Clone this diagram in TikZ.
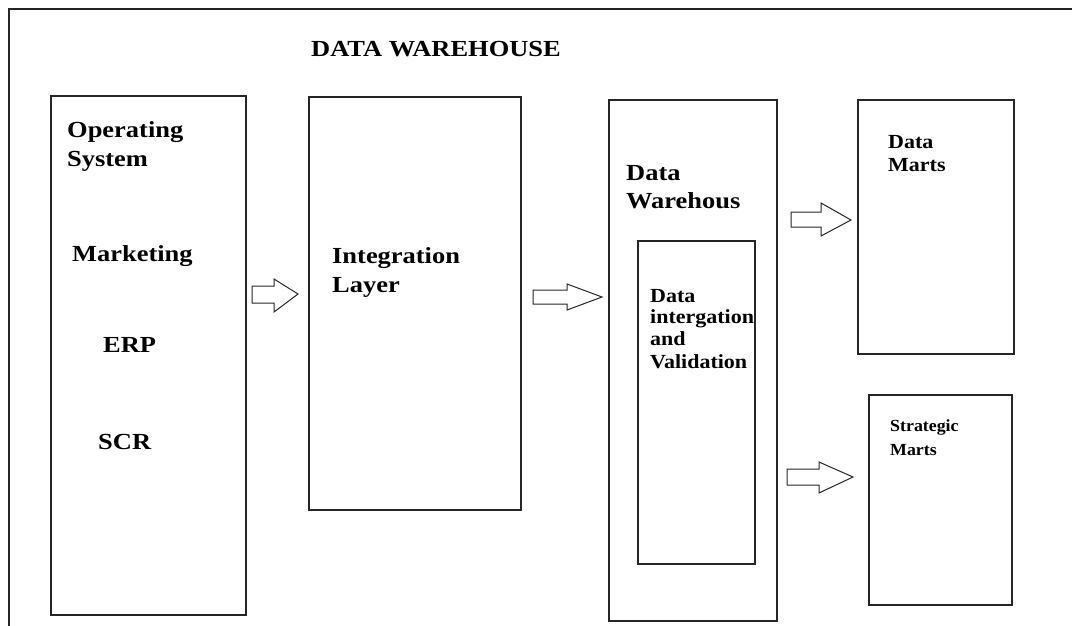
\documentclass[tikz,border=0pt]{standalone}
\usepackage{fontspec}
\newfontfamily\bigf{Liberation Serif}[FakeStretch=1.15]
\newfontfamily\smallf{Liberation Serif}[FakeStretch=1.1]
\newfontfamily\tinyf{Liberation Serif}[FakeStretch=1.05]
\begin{document}
\begin{tikzpicture}[x=1pt,y=-1pt,
  box/.style={draw=black!85, line width=1.4pt, fill=white},
  lblA/.style={font=\bigf\bfseries\fontsize{23}{27}\selectfont, anchor=base west, inner sep=0pt},
  lblB/.style={font=\smallf\bfseries\fontsize{20}{23}\selectfont, anchor=base west, inner sep=0pt},
  lblC/.style={font=\tinyf\bfseries\fontsize{17}{20}\selectfont, anchor=base west, inner sep=0pt},
  blockarrow/.style={draw=black!85, line width=1pt, fill=white, line join=miter}]
\useasboundingbox (0,0) rectangle (1072,626);
% outer frame (left and top only visible)
\draw[line width=2pt, black!85] (9,626) -- (9,9) -- (1072,9);
% boxes
\draw[box] (51,96) rectangle (246,615) node[pos=0.5] (os) {};
\draw[box] (309,97) rectangle (521,510) node[pos=0.5] (il) {};
\draw[box] (609,100) rectangle (777,621) node[pos=0.5] (dw) {};
\draw[box] (638,241) rectangle (755,564) node[pos=0.5] (div) {};
\draw[box] (858,100) rectangle (1014,354) node[pos=0.5] (dm) {};
\draw[box] (869,395) rectangle (1012,605) node[pos=0.5] (sm) {};
% block arrows
\draw[blockarrow] (252,286) -- (274,286) -- (274,279) -- (298,294) -- (274,312) -- (274,303) -- (252,303) -- cycle;
\draw[blockarrow] (533,290) -- (567,290) -- (567,284) -- (602,297) -- (567,310) -- (567,304) -- (533,304) -- cycle;
\draw[blockarrow] (791,212) -- (821,212) -- (821,203) -- (851,220) -- (821,236) -- (821,227) -- (791,227) -- cycle;
\draw[blockarrow] (787,469) -- (819,469) -- (819,462) -- (853,477) -- (819,493) -- (819,485) -- (787,485) -- cycle;
% texts
\node[lblA] (title) at (311,57) {DATA WAREHOUSE};
\node[lblA] (os1) at (67,138) {Operating};
\node[lblA] (os2) at (67,166) {System};
\node[lblA] (mk) at (72,261) {Marketing};
\node[lblA] (erp) at (103,352) {ERP};
\node[lblA] (scr) at (98,449) {SCR};
\node[lblA] (il1) at (332,263) {Integration};
\node[lblA] (il2) at (332,292) {Layer};
\node[lblA] (dw1) at (626,180) {Data};
\node[lblA] (dw2) at (626,208) {Warehous};
\node[lblB] (di1) at (650,302) {Data};
\node[lblB] (di2) at (650,323) {intergation};
\node[lblB] (di3) at (650,345) {and};
\node[lblB] (di4) at (650,368) {Validation};
\node[lblB] (dm1) at (888,148) {Data};
\node[lblB] (dm2) at (888,171) {Marts};
\node[lblC] (sm1) at (890,431) {Strategic};
\node[lblC] (sm2) at (890,455) {Marts};
\end{tikzpicture}
\end{document}
